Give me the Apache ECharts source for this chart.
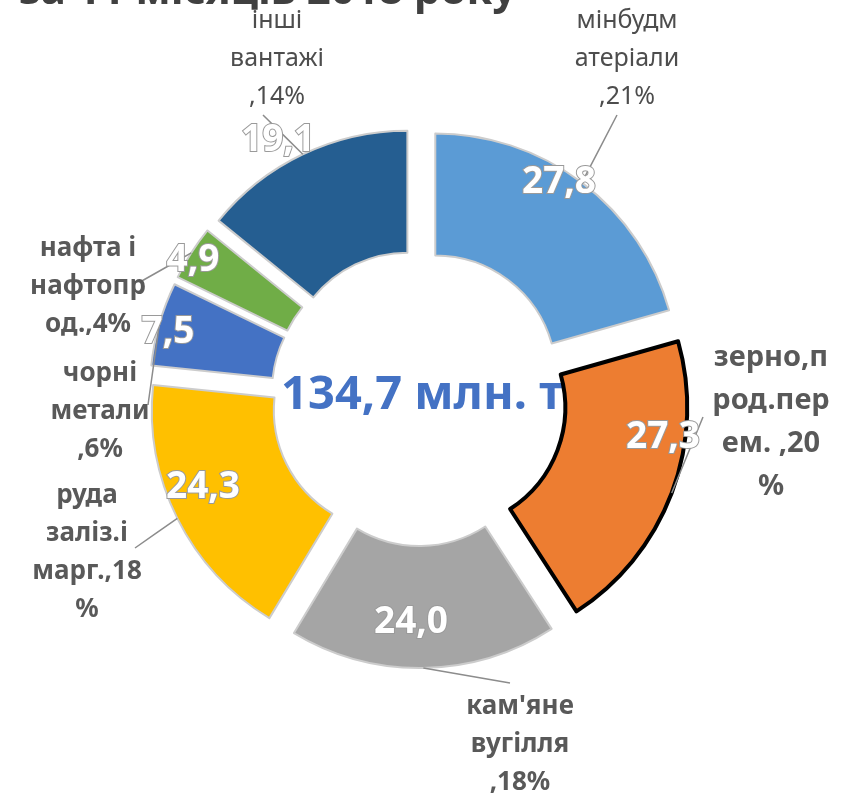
<!DOCTYPE html>
<html><head><meta charset="utf-8">
<script src="https://cdn.jsdelivr.net/npm/echarts@6/dist/echarts.min.js"></script>
<style>html,body{margin:0;padding:0;background:#fff}#c{width:851px;height:798px}</style>
</head><body><div id="c"></div>
<script>
// ---- data ----
const categories = ['мінбудматеріали', 'зерно,прод.перем.', "кам'яне вугілля", 'руда заліз.і марг.', 'чорні метали', 'нафта і нафтопрод.', 'інші вантажі'];
const values = [27.8, 27.3, 24.0, 24.3, 7.5, 4.9, 19.1];
const categoryLabels = ['мінбудм\nатеріали\n,21%', 'зерно,п\nрод.пер\nем. ,20\n%', "кам'яне\nвугілля\n,18%", 'руда\nзаліз.і\nмарг.,18\n%', 'чорні\nметали\n,6%', 'нафта і\nнафтопр\nод.,4%', 'інші\nвантажі\n,14%'];
const totalLabel = '134,7 млн. т';
const titleText = 'за 11 місяців 2018 року';

// ---- styles / layout ----
const colors = ['#5B9BD5', '#ED7D31', '#A5A5A5', '#FFC000', '#4472C4', '#70AD47', '#255E91'];
const CENTER = [419, 398];
const R_IN = 121, R_OUT = 243, EXPLODE = 27;
const labelPos = [[627, 59], [771, 422], [520, 745], [87, 553], [100, 412], [88, 287], [277, 59]];
const lineEnd = [[617, 115], [703, 417], [510, 683], [135, 548], [148, 405], [140, 282], [263, 115]];
const valuePos = [[559, 182], [663, 437], [411, 622], [203, 487], [168, 332], [193, 260], [278, 140]];
const FONT = '"Noto Sans", "DejaVu Sans", sans-serif';

const chart = echarts.init(document.getElementById('c'), null, {renderer: 'canvas'});
const fmt = v => v.toFixed(1).replace('.', ',');

const option = {
  animation: false,
  backgroundColor: '#ffffff',
  graphic: [
    {type: 'text', silent: true, style: {x: 19, y: -8, text: titleText, font: 'bold 42px ' + FONT, fill: '#404040', textVerticalAlign: 'middle'}},
    {type: 'text', silent: true, style: {x: 422, y: 396, text: totalLabel, font: 'bold 47px ' + FONT, fill: '#4472C4', textAlign: 'center', textVerticalAlign: 'middle'}}
  ],
  series: [
    {
      type: 'pie', center: CENTER, radius: [R_IN, R_OUT], startAngle: 90, clockwise: true,
      selectedMode: 'multiple', selectedOffset: EXPLODE, avoidLabelOverlap: false, silent: true,
      emphasis: {scale: false},
      label: {show: false}, labelLine: {show: false},
      data: values.map((v, i) => ({
        value: v, name: categories[i], selected: true,
        itemStyle: {color: colors[i], borderColor: i === 1 ? '#000000' : '#cccccc', borderWidth: i === 1 ? 4 : 2}
      }))
    },
    {
      type: 'pie', center: CENTER, radius: [R_IN, R_OUT + EXPLODE], startAngle: 90, clockwise: true,
      avoidLabelOverlap: false, silent: true, z: 3,
      itemStyle: {color: 'rgba(0,0,0,0)'},
      label: {show: true, position: 'outside', color: '#595959', fontFamily: FONT, fontWeight: 'bold', fontSize: 26, lineHeight: 38, align: 'center'},
      labelLine: {show: true, length: 20, length2: 10, lineStyle: {color: '#8c8c8c', width: 1.5}},
      labelLayout: function (p) {
        const i = p.dataIndex;
        const s = p.labelLinePoints && p.labelLinePoints[0];
        const e = lineEnd[i];
        const res = {x: labelPos[i][0], y: labelPos[i][1], align: 'center', verticalAlign: 'middle'};
        if (s) res.labelLinePoints = [[s[0], s[1]], [(s[0] + e[0]) / 2, (s[1] + e[1]) / 2], [e[0], e[1]]];
        return res;
      },
      data: values.map((v, i) => ({
        value: v, name: categories[i],
        label: Object.assign({formatter: categoryLabels[i]},
          i === 1 ? {fontSize: 29, lineHeight: 43} : {},
          (i === 0 || i === 6) ? {fontWeight: 'normal', fontSize: 25, lineHeight: 38, color: '#4d4d4d'} : {})
      }))
    },
    {
      type: 'pie', center: CENTER, radius: [R_IN, R_OUT + EXPLODE], startAngle: 90, clockwise: true,
      avoidLabelOverlap: false, silent: true, z: 4,
      itemStyle: {color: 'rgba(0,0,0,0)'},
      label: {show: true, position: 'inside', formatter: p => fmt(p.value), color: '#ffffff', fontFamily: FONT, fontWeight: 'bold', fontSize: 37, textBorderColor: '#9a9a9a', textBorderWidth: 2},
      labelLine: {show: false},
      labelLayout: function (p) {
        const i = p.dataIndex;
        return {x: valuePos[i][0], y: valuePos[i][1], align: 'center', verticalAlign: 'middle'};
      },
      data: values.map((v, i) => ({value: v, name: categories[i]}))
    }
  ]
};
chart.setOption(option);
</script>
</body></html>
